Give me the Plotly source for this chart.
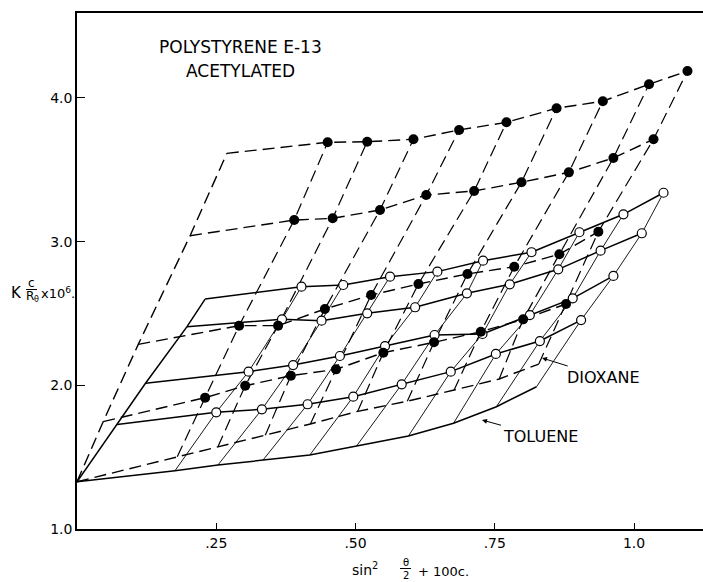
import plotly.graph_objects as go

# ---------------- data ----------------
# x = sin^2(theta/2) + 100c ,  y = Kc/R_theta x 10^6
# Dioxane (filled circles, dashed lines): four concentrations x nine angles
diox_c1_x = [0.450, 0.521, 0.604, 0.686, 0.771, 0.861, 0.944, 1.027, 1.096]
diox_c1_y = [3.691, 3.695, 3.712, 3.777, 3.830, 3.928, 3.977, 4.095, 4.187]
diox_c2_x = [0.390, 0.459, 0.544, 0.627, 0.713, 0.798, 0.883, 0.963, 1.035]
diox_c2_y = [3.150, 3.162, 3.220, 3.324, 3.352, 3.413, 3.482, 3.582, 3.712]
diox_c3_x = [0.291, 0.361, 0.445, 0.528, 0.613, 0.701, 0.785, 0.866, 0.936]
diox_c3_y = [2.415, 2.415, 2.531, 2.628, 2.705, 2.775, 2.825, 2.912, 3.069]
diox_c4_x = [0.230, 0.302, 0.384, 0.465, 0.550, 0.641, 0.725, 0.801, 0.878]
diox_c4_y = [1.914, 1.997, 2.067, 2.111, 2.227, 2.299, 2.373, 2.459, 2.566]
# extrapolations (c -> 0 and theta -> 0)
diox_zero_c_x = [0.0, 0.180, 0.253, 0.338, 0.419, 0.504, 0.593, 0.677, 0.758, 0.829]
diox_zero_c_y = [1.329, 1.503, 1.573, 1.653, 1.731, 1.819, 1.889, 1.967, 2.044, 2.148]
diox_zero_theta_x = [0.0, 0.047, 0.110, 0.203, 0.269]
diox_zero_theta_y = [1.329, 1.747, 2.285, 3.041, 3.614]

# Toluene (open circles, solid lines)
tol_c1_x = [0.403, 0.478, 0.562, 0.647, 0.729, 0.816, 0.902, 0.981, 1.053]
tol_c1_y = [2.686, 2.698, 2.756, 2.791, 2.867, 2.926, 3.065, 3.190, 3.340]
tol_c2_x = [0.368, 0.439, 0.521, 0.607, 0.700, 0.777, 0.864, 0.940, 1.014]
tol_c2_y = [2.459, 2.450, 2.501, 2.543, 2.640, 2.703, 2.807, 2.937, 3.058]
tol_c3_x = [0.308, 0.388, 0.472, 0.553, 0.642, 0.728, 0.813, 0.890, 0.963]
tol_c3_y = [2.095, 2.141, 2.204, 2.273, 2.350, 2.357, 2.489, 2.605, 2.761]
tol_c4_x = [0.250, 0.332, 0.414, 0.496, 0.583, 0.671, 0.752, 0.831, 0.905]
tol_c4_y = [1.812, 1.833, 1.868, 1.921, 2.007, 2.095, 2.218, 2.308, 2.454]
tol_zero_c_x = [0.0, 0.176, 0.253, 0.334, 0.418, 0.502, 0.595, 0.676, 0.753, 0.825]
tol_zero_c_y = [1.329, 1.406, 1.445, 1.480, 1.515, 1.578, 1.647, 1.736, 1.851, 1.990]
tol_zero_theta_x = [0.0, 0.072, 0.123, 0.1975, 0.230]
tol_zero_theta_y = [1.329, 1.728, 2.014, 2.408, 2.600]

x_tick_vals = [0.25, 0.50, 0.75, 1.0]
x_tick_text = [".25", ".50", ".75", "1.0"]
y_tick_vals = [1.0, 2.0, 3.0, 4.0]
y_tick_text = ["1.0", "2.0", "3.0", "4.0"]

# ---------------- figure ----------------
FONT = "DejaVu Sans"
DASH = "12px,6px"
fig = go.Figure()


def add_line(xs, ys, width, dash="solid"):
    fig.add_trace(go.Scatter(x=xs, y=ys, mode="lines", hoverinfo="skip",
                             line=dict(color="black", width=width, dash=dash),
                             showlegend=False))


def build(rows, zc_x, zc_y, zt_x, zt_y, dash, row_w, ang_w):
    # rows ordered highest concentration first; theta=0 points ordered c=0, c4, c3, c2, c1
    n = len(rows)
    for j, (rx, ry) in enumerate(rows):
        k = n - j
        add_line([zt_x[k]] + rx, [zt_y[k]] + ry, row_w, dash)
    for i in range(len(rows[0][0])):
        xs = [zc_x[i + 1]] + [rows[n - 1 - j][0][i] for j in range(n)]
        ys = [zc_y[i + 1]] + [rows[n - 1 - j][1][i] for j in range(n)]
        add_line(xs, ys, ang_w, dash)
    add_line(zc_x, zc_y, row_w, dash)
    add_line(zt_x, zt_y, row_w, dash)


diox_rows = [(diox_c1_x, diox_c1_y), (diox_c2_x, diox_c2_y),
             (diox_c3_x, diox_c3_y), (diox_c4_x, diox_c4_y)]
tol_rows = [(tol_c1_x, tol_c1_y), (tol_c2_x, tol_c2_y),
            (tol_c3_x, tol_c3_y), (tol_c4_x, tol_c4_y)]

build(diox_rows, diox_zero_c_x, diox_zero_c_y, diox_zero_theta_x, diox_zero_theta_y,
      DASH, 1.4, 1.2)
build(tol_rows, tol_zero_c_x, tol_zero_c_y, tol_zero_theta_x, tol_zero_theta_y,
      "solid", 1.5, 0.9)

# open circles (toluene)
fig.add_trace(go.Scatter(
    x=sum([r[0] for r in tol_rows], []), y=sum([r[1] for r in tol_rows], []),
    mode="markers", showlegend=False, hoverinfo="skip",
    marker=dict(size=9, color="white", line=dict(color="black", width=1.2))))
# filled circles (dioxane)
fig.add_trace(go.Scatter(
    x=sum([r[0] for r in diox_rows], []), y=sum([r[1] for r in diox_rows], []),
    mode="markers", showlegend=False, hoverinfo="skip",
    marker=dict(size=10, color="black", line=dict(color="black", width=0))))

# ---------------- layout ----------------
L, T, W, H = 77, 13, 703, 582
PW, PH = W - L, 516
XMAX = PW / 557.0
YMAX = 1.0 + PH / 143.7


def PX(px):
    return (px - L) / PW


def PY(py):
    return (T + PH - py) / PH


def DX(px):
    return (px - L) / 557.0


def DY(py):
    return 1.0 + (T + PH - py) / 143.7


annotations = []


def txt(text, px, py, size, xanchor="center"):
    annotations.append(dict(text=text, x=PX(px), y=PY(py), xref="paper", yref="paper",
                            xanchor=xanchor, yanchor="middle", showarrow=False,
                            font=dict(family=FONT, size=size, color="black")))


txt("POLYSTYRENE E-13", 240, 47, 17)
txt("ACETYLATED", 240, 71, 17)

# y-axis title: K (c / R_theta) x10^6.
txt("K", 16, 293, 15)
txt("c", 31.5, 282.5, 12)
txt("R", 30, 296, 12)
txt("θ", 36.5, 299.5, 8)
txt("x10<sup>6</sup>.", 58, 293, 13)

# x-axis title: sin^2 (theta/2) + 100c.
txt("sin<sup>2</sup>", 350, 569, 14, xanchor="left")
txt("θ", 405.5, 562, 10)
txt("2", 405.5, 575.5, 10)
txt("+ 100c.", 416, 571, 13, xanchor="left")

# labelled arrows
annotations.append(dict(text="DIOXANE", x=DX(542), y=DY(358), xref="x", yref="y",
                        ax=61, ay=19, showarrow=True, arrowhead=2, arrowsize=1,
                        arrowwidth=1, arrowcolor="black",
                        font=dict(family=FONT, size=16, color="black")))
annotations.append(dict(text="TOLUENE", x=DX(482), y=DY(420), xref="x", yref="y",
                        ax=58, ay=16, showarrow=True, arrowhead=2, arrowsize=1,
                        arrowwidth=1, arrowcolor="black",
                        font=dict(family=FONT, size=16, color="black")))

shapes = [
    dict(type="line", xref="paper", yref="paper", x0=PX(26), x1=PX(37), y0=PY(289.5), y1=PY(289.5),
         line=dict(color="black", width=1)),
    dict(type="line", xref="paper", yref="paper", x0=PX(400), x1=PX(411), y0=PY(568.5), y1=PY(568.5),
         line=dict(color="black", width=1)),
]

fig.update_layout(
    width=W, height=H,
    margin=dict(l=L, r=0, t=T, b=H - T - PH, pad=0),
    paper_bgcolor="white", plot_bgcolor="white",
    annotations=annotations, shapes=shapes,
    xaxis=dict(range=[0, XMAX], showgrid=False, zeroline=False,
               showline=True, linecolor="black", linewidth=1.6, mirror=True,
               ticks="inside", ticklen=6, tickwidth=1, tickcolor="black",
               tickvals=x_tick_vals, ticktext=x_tick_text,
               tickfont=dict(family=FONT, size=14, color="black")),
    yaxis=dict(range=[1.0, YMAX], showgrid=False, zeroline=False,
               showline=True, linecolor="black", linewidth=1.6,
               ticks="inside", ticklen=8, tickwidth=1, tickcolor="black",
               tickvals=y_tick_vals, ticktext=y_tick_text,
               tickfont=dict(family=FONT, size=14, color="black")),
)

fig.write_html("out.html", config={"displayModeBar": False},
               post_script="document.body.style.margin='0';document.body.style.overflow='hidden';")
